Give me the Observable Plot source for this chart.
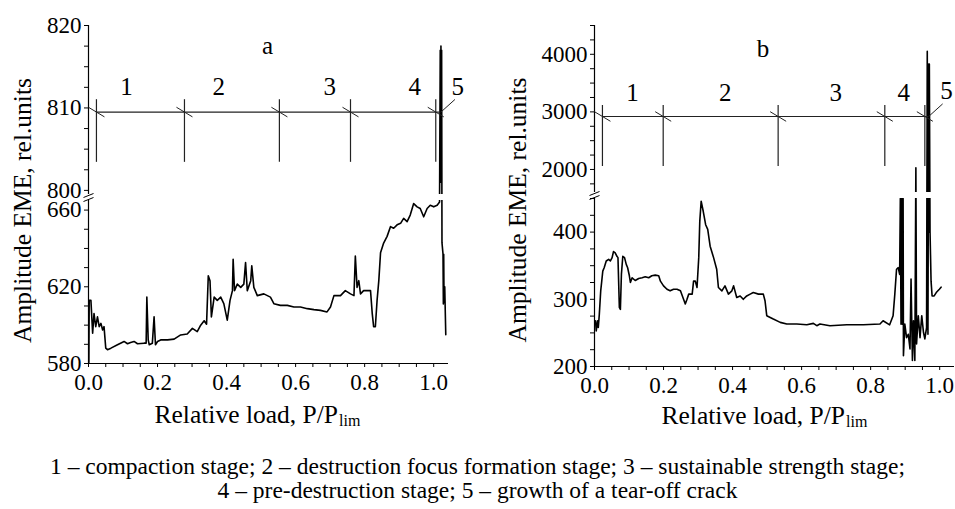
<!DOCTYPE html>
<html><head><meta charset="utf-8">
<script src="https://cdn.jsdelivr.net/npm/d3@7"></script>
<script src="https://cdn.jsdelivr.net/npm/@observablehq/plot@0.6"></script>
<style>
html,body{margin:0;padding:0;background:#fff;}
#wrap{position:relative;width:955px;height:509px;overflow:hidden;font-family:"Liberation Serif","Times New Roman",Times,"DejaVu Serif",serif;background:#fff;}
#pa{position:absolute;left:0;top:0;}
#pb{position:absolute;left:478px;top:0;}
#cap{position:absolute;left:0;top:454px;width:955px;text-align:center;font-size:23.5px;line-height:24px;color:#000;}
</style></head><body>
<div id="wrap"><div id="pa"></div><div id="pb"></div>
<div id="cap">1 – compaction stage; 2 – destruction focus formation stage; 3 – sustainable strength stage;<br>4 – pre-destruction stage; 5 – growth of a tear-off crack</div></div>
<script>
// ---------- Panel a data ----------
const loadA = [
0.001,0.002,0.007,0.012,0.016,0.021,0.026,0.031,0.036,0.041,
0.045,0.050,0.055,0.065,0.084,0.103,0.113,0.122,0.132,0.142,
0.161,0.167,0.169,0.173,0.176,0.185,0.190,0.194,0.200,0.209,
0.229,0.248,0.267,0.286,0.301,0.315,0.325,0.335,0.342,0.347,
0.352,0.356,0.364,0.373,0.383,0.392,0.402,0.410,0.417,0.419,
0.423,0.431,0.441,0.450,0.455,0.460,0.470,0.473,0.479,0.489,
0.508,0.527,0.537,0.556,0.576,0.595,0.614,0.634,0.653,0.672,
0.691,0.701,0.711,0.730,0.744,0.759,0.769,0.773,0.778,0.783,
0.788,0.797,0.817,0.822,0.826,0.831,0.836,0.841,0.846,0.855,
0.865,0.875,0.884,0.894,0.904,0.913,0.923,0.932,0.942,0.952,
0.961,0.971,0.981,0.990,1.000,1.010,1.017,1.019,1.020,1.021,
1.022,1.023,1.024,1.027,1.028,1.029,1.030,1.032,1.035];
const emeA = [
580.5,612.9,612.9,595.8,606.0,599.2,604.3,599.2,600.9,597.5,
599.2,588.0,587.2,588.0,589.8,591.5,590.3,591.0,591.5,590.3,
590.6,590.6,614.6,592.3,589.8,590.6,604.3,589.8,591.5,592.3,
592.3,592.7,594.9,595.4,598.3,596.6,600.0,602.3,600.5,625.7,
623.2,604.3,614.6,612.9,614.6,611.2,602.6,612.9,618.0,634.3,
618.0,621.4,619.7,621.4,632.6,618.0,623.2,630.9,619.7,615.4,
616.3,614.6,611.2,610.3,610.3,609.5,609.5,608.6,608.1,607.7,
606.9,609.5,615.4,615.4,618.0,616.3,615.4,636.0,619.7,623.2,
616.3,618.0,618.0,606.0,599.2,599.2,612.9,623.2,637.7,642.8,
646.3,651.4,650.5,652.3,653.1,655.7,654.0,657.4,663.4,661.7,
660.8,656.5,660.8,662.5,661.7,662.5,664.2,817.0,801.0,817.5,
801.0,817.0,643.0,637.0,611.0,637.0,612.0,620.0,595.0];
const yBreakA = [580, 665, 799.5, 820];
const yTicksA = [580,590,600,610,620,630,640,650,660,800,802.5,805,807.5,810,812.5,815,817.5,820];
const yLabelsA = [580,620,660,800,810,820];
const stagesA = [0.023, 0.278, 0.553, 0.759, 1.006];
const stageLineA = 809.5, stageTopA = 811, stageBottomA = 803.4, spikeA = 1.021;
const stageNamesA = ["1","2","3","4","5"];
const stageNameXA = [0.110, 0.377, 0.699, 0.945, 1.070];
const stageNameYA = [812.5, 812.5, 812.5, 812.5, 812.5];
const titleA = {text: "a", x: 0.519, y: 817.5};

// ---------- Panel b data ----------
const loadB = [
0.003,0.005,0.009,0.011,0.014,0.018,0.021,0.024,0.028,0.034,
0.041,0.046,0.051,0.055,0.060,0.065,0.068,0.072,0.075,0.078,
0.082,0.087,0.092,0.096,0.101,0.104,0.109,0.118,0.128,0.138,
0.147,0.157,0.166,0.176,0.186,0.191,0.200,0.210,0.219,0.229,
0.239,0.249,0.258,0.263,0.268,0.273,0.283,0.287,0.292,0.297,
0.302,0.305,0.309,0.315,0.322,0.328,0.335,0.345,0.354,0.359,
0.369,0.378,0.388,0.398,0.403,0.412,0.422,0.431,0.441,0.451,
0.460,0.475,0.489,0.494,0.499,0.509,0.518,0.538,0.557,0.586,
0.615,0.634,0.644,0.653,0.682,0.731,0.779,0.827,0.836,0.855,
0.865,0.870,0.875,0.880,0.884,0.886,0.888,0.890,0.892,0.894,
0.895,0.899,0.904,0.909,0.914,0.917,0.921,0.924,0.928,0.931,
0.933,0.938,0.943,0.948,0.953,0.957,0.962,0.964,0.966,0.968,
0.969,0.970,0.972,0.975,0.978,0.984,0.990,0.999,1.004];
const emeB = [
268,253,268,258,278,312.6,327,342,347,357,
359.5,357,362,371,369,364,362,288,285,337.5,
364,362,352,347,335,325,332,328,331,332,
333.5,332,335,336,335,327,320,315,312.6,315,
315,312.6,300,293,300,307.7,307.7,327,327,317.5,
362,416,446,431,411,404,379,362,344.7,317.5,
312.6,320,307.7,312.6,320,302.7,305,300,305,307.7,
310,307.7,307.7,297.8,275.6,273,270.6,265.7,263.2,263.2,
262.2,264.2,260.7,263.2,260.7,262.2,262.2,263.2,268,262,
275.6,307.7,344.7,347,337,450,263,450,263,450,
216,263,243,248,226,330,209,268,209,2030,
233.6,275.6,243,275.6,251,241,258,4050,248,3830,
400,3830,401,327,305,305,310,315,318];
const yBreakB = [200, 450, 1600, 4500];
const yTicksB = [200,225,250,275,300,325,350,375,400,425,450,1750,2000,2250,2500,2750,3000,3250,3500,3750,4000,4250,4500];
const yLabelsB = [200,300,400,2000,3000,4000];
const stagesB = [0.023, 0.199, 0.532, 0.841, 0.957];
const stageLineB = 2920, stageTopB = 3111, stageBottomB = 2051, spikeB = 0.968;
const stageNamesB = ["1","2","3","4","5"];
const stageNameXB = [0.110, 0.379, 0.699, 0.896, 1.020];
const stageNameYB = [3336, 3336, 3336, 3336, 3371];
const titleB = {text: "b", x: 0.488, y: 4100};

// ---------- shared axis ----------
const xTicks = [0,0.05,0.1,0.15,0.2,0.25,0.3,0.35,0.4,0.45,0.5,0.55,0.6,0.65,0.7,0.75,0.8,0.85,0.9,0.95,1.0];
const xLabels = [0,0.2,0.4,0.6,0.8,1.0];
const xDomain = [0, 1.04];
const yTitle = "Amplitude EME, rel.units";
const xTitle = "Relative load, P/P";
const xTitleSub = "lim";

const FONT = "'Liberation Serif', 'Times New Roman', Times, 'DejaVu Serif', serif";
const slash = {draw(ctx, size){ const h = Math.sqrt(size/Math.PI); ctx.moveTo(-h, -h*0.6); ctx.lineTo(h, h*0.6); }};
const leader = {draw(ctx, size){ const h = Math.sqrt(size/Math.PI); ctx.moveTo(0, 0); ctx.lineTo(h, -h*0.9); }};
const brk = {draw(ctx, size){ const h = Math.sqrt(size/Math.PI); ctx.moveTo(-h, 0); ctx.lineTo(h, -4); ctx.moveTo(-h, 4); ctx.lineTo(h, 0); }};

function panel(o) {
  const data = o.x.map((x, i) => ({x, y: o.y[i]}));
  const [lo0, lo1, up0, up1] = o.yBreak;
  const segs = [{a: lo0, b: lo1}, {a: up0, b: up1}];
  const names = o.names.map((t, i) => ({t, x: o.nameX[i], y: o.nameY[i]}));
  const fmtX = d => xLabels.some(v => Math.abs(v - d) < 1e-9) ? d3.format(".1f")(d) : "";
  const fmtY = d => o.yLabels.includes(d) ? String(d) : "";
  return Plot.plot({
    width: o.width, height: 430,
    marginLeft: o.ml, marginRight: o.mr, marginTop: 25, marginBottom: o.mb,
    style: {fontFamily: FONT, fontSize: "23px", color: "#000", background: "#fff", overflow: "visible"},
    x: {domain: xDomain, ticks: xTicks, tickFormat: fmtX, tickSize: 4, tickPadding: 6, line: true, label: null},
    y: {type: "linear", domain: o.yBreak, range: o.yRange, ticks: o.yTicks, tickFormat: fmtY, tickSize: 4, tickPadding: 3, label: null},
    marks: [
      Plot.line(data, {x: "x", y: "y", stroke: "#000", strokeWidth: 1.6}),
      Plot.rect([0], {y1: lo1, y2: up0, fill: "#fff"}),
      Plot.ruleX(segs, {x: 0, y1: "a", y2: "b", stroke: "#000", strokeWidth: 1.2}),
      Plot.dot([(lo1 + up0) / 2], {x: 0, y: d => d, symbol: brk, r: 5, fill: "none", stroke: "#000", strokeWidth: 1}),
      Plot.ruleX(o.stages, {x: d => d, y1: o.stageBottom, y2: o.stageTop, stroke: "#222", strokeWidth: 1.2}),
      Plot.ruleY([o.stageLine], {y: d => d, x1: o.stages[0], x2: o.spike, stroke: "#222", strokeWidth: 1.2}),
      Plot.dot(o.stages, {x: d => d, y: o.stageLine, symbol: slash, r: 8, fill: "none", stroke: "#222", strokeWidth: 1}),
      Plot.dot([o.spike], {x: d => d, y: o.stageLine, symbol: leader, r: 14, fill: "none", stroke: "#222", strokeWidth: 1}),
      Plot.text(names, {x: "x", y: "y", text: "t", fontSize: 25, fill: "#000"}),
      Plot.text([o.title], {x: "x", y: "y", text: "text", fontSize: 25, fill: "#000"}),
      Plot.text([yTitle], {text: d => d, frameAnchor: "left", textAnchor: "middle", rotate: -90, dx: o.ydx, dy: o.ydy, fontSize: 25.5, fill: "#000"}),
      Plot.text([xTitle], {text: d => d, frameAnchor: "bottom", textAnchor: "end", lineAnchor: "bottom", dx: o.xdx, dy: o.xdy, fontSize: 25.5, fill: "#000"}),
      Plot.text([xTitleSub], {text: d => d, frameAnchor: "bottom", textAnchor: "start", lineAnchor: "bottom", dx: o.xdx + 1, dy: o.xdy + 3, fontSize: 16, fill: "#000"})
    ]
  });
}

document.getElementById("pa").append(panel({
  x: loadA, y: emeA, yBreak: yBreakA, yRange: [363, 200, 194, 25], yTicks: yTicksA, yLabels: yLabelsA,
  stages: stagesA, stageLine: stageLineA, stageTop: stageTopA, stageBottom: stageBottomA, spike: spikeA,
  names: stageNamesA, nameX: stageNameXA, nameY: stageNameYA, title: titleA,
  width: 470, ml: 88, mr: 23, mb: 67, ydx: -66, ydy: 16, xdx: 70, xdy: 59
}));
document.getElementById("pb").append(panel({
  x: loadB, y: emeB, yBreak: yBreakB, yRange: [366, 198, 192, 25], yTicks: yTicksB, yLabels: yLabelsB,
  stages: stagesB, stageLine: stageLineB, stageTop: stageTopB, stageBottom: stageBottomB, spike: spikeB,
  names: stageNamesB, nameX: stageNameXB, nameY: stageNameYB, title: titleB,
  width: 477, ml: 116, mr: 2, mb: 64, ydx: -77, ydy: 14, xdx: 71, xdy: 57
}));
</script>
</body></html>
